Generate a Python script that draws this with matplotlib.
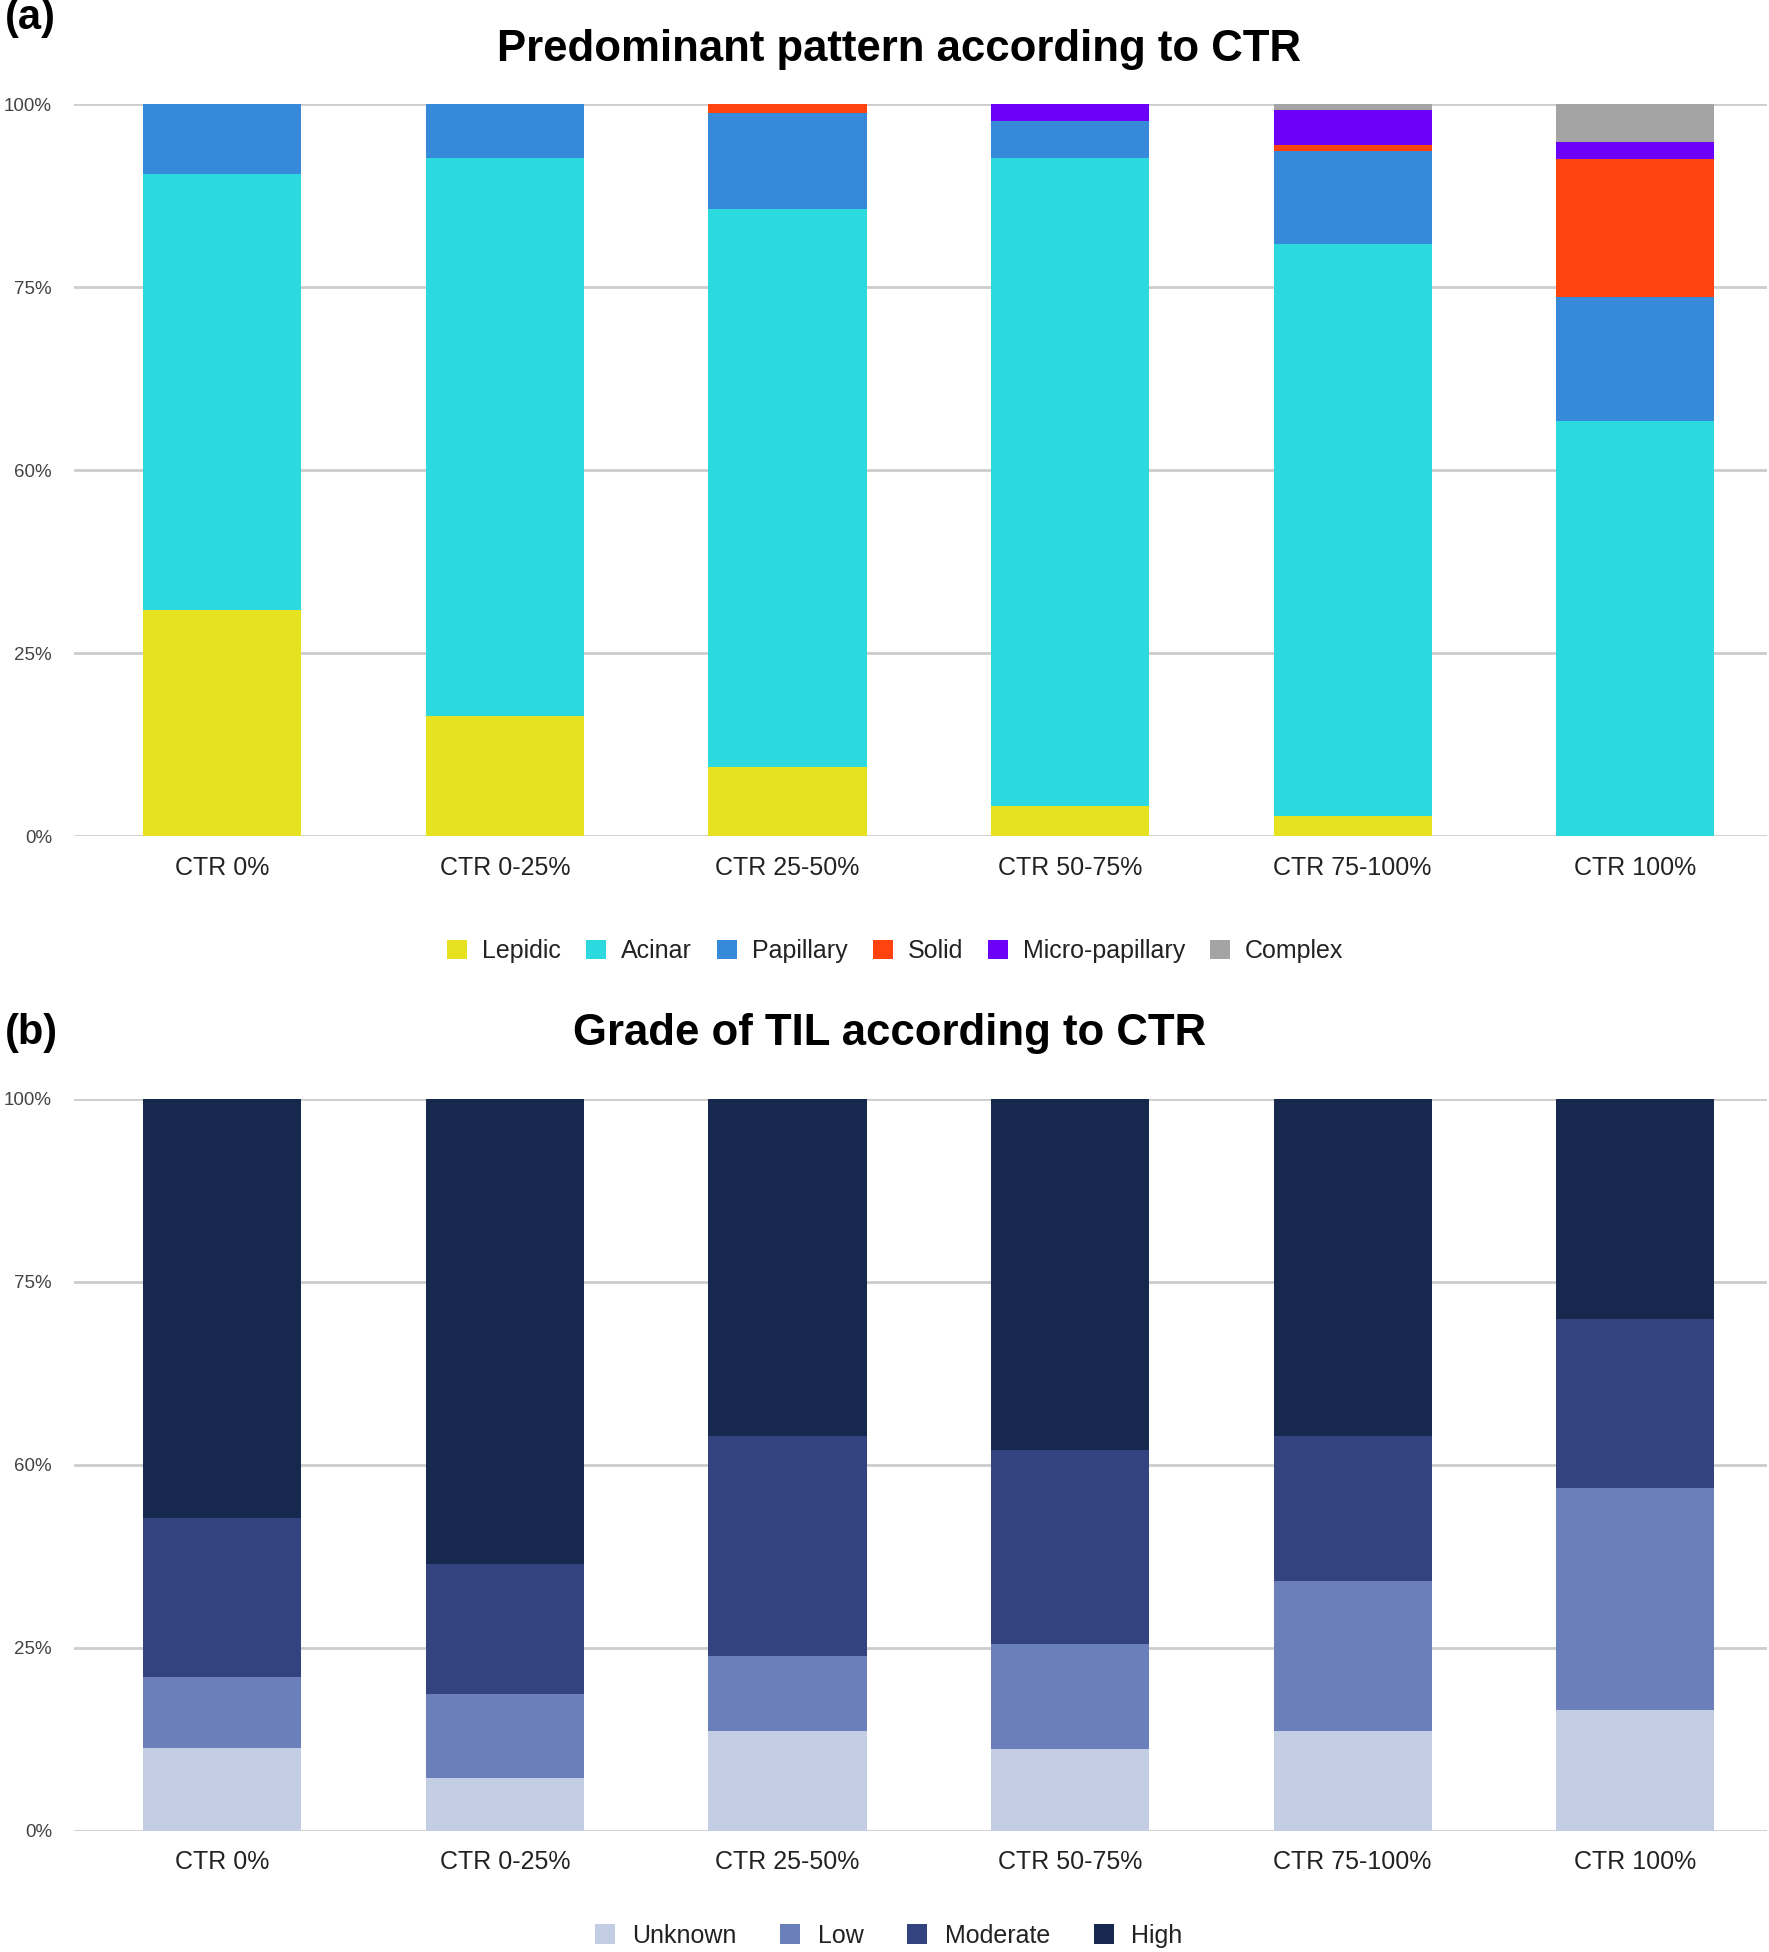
import numpy as np
import matplotlib.pyplot as plt

plt.rcParams['font.family'] = ['Liberation Sans', 'DejaVu Sans']

categories = ['CTR 0%', 'CTR 0-25%', 'CTR 25-50%', 'CTR 50-75%', 'CTR 75-100%', 'CTR 100%']

# (a) predominant pattern, percent of each CTR group
pattern_names = ['Lepidic', 'Acinar', 'Papillary', 'Solid', 'Micro-papillary', 'Complex']
lepidic = [31.0, 16.4, 9.5, 4.2, 2.8, 0.0]
acinar = [59.5, 76.3, 76.2, 88.5, 78.2, 56.8]
papillary = [9.5, 7.3, 13.1, 5.1, 12.6, 16.9]
solid = [0.0, 0.0, 1.2, 0.0, 0.8, 18.9]
micropapillary = [0.0, 0.0, 0.0, 2.2, 4.9, 2.3]
complex_ = [0.0, 0.0, 0.0, 0.0, 0.7, 5.1]
pattern_colors = ['#e6e21f', '#2cd9de', '#3789da', '#fe4210', '#6d00f6', '#a4a4a4']

# (b) grade of TIL, percent of each CTR group
til_names = ['Unknown', 'Low', 'Moderate', 'High']
unknown = [11.4, 7.3, 13.7, 11.2, 13.7, 16.5]
low = [9.7, 11.4, 10.2, 14.3, 20.5, 30.4]
moderate = [21.7, 17.8, 30.0, 26.5, 19.7, 23.1]
high = [57.2, 63.5, 46.1, 48.0, 46.1, 30.0]
til_colors = ['#c3cde3', '#6b80ba', '#33437f', '#17284f']

ytick_vals = [0, 25, 50, 75, 100]
ytick_labels = ['0%', '25%', '60%', '75%', '100%']


def stacked(ax, series, names, colors, legend_x, legend_y, pad, colsp):
    x = np.arange(len(categories))
    bottom = np.zeros(len(categories))
    for vals, name, col in zip(series, names, colors):
        ax.bar(x, vals, 0.56, bottom=bottom, color=col, label=name, zorder=2)
        bottom += np.array(vals)
    ax.set_xlim(-0.524, 5.467)
    ax.set_ylim(0, 100)
    ax.set_yticks(ytick_vals)
    ax.set_yticklabels(ytick_labels, fontsize=13.5, color='#444444')
    ax.set_xticks(x)
    ax.set_xticklabels(categories, fontsize=18, color='#222222')
    ax.tick_params(axis='both', length=0)
    ax.tick_params(axis='y', pad=16)
    ax.tick_params(axis='x', pad=14)
    ax.yaxis.grid(True, color='#cccccc', linewidth=2, zorder=0)
    ax.set_axisbelow(True)
    for s in ax.spines.values():
        s.set_visible(False)
    ax.legend(loc='center', bbox_to_anchor=(legend_x, legend_y), ncol=len(names), frameon=False,
              fontsize=18, handlelength=0.8, handleheight=0.8, handletextpad=pad,
              columnspacing=colsp, labelcolor='#222222')


fig = plt.figure(figsize=(17.69, 19.52), dpi=100)
ax1 = fig.add_axes([0.042, 0.5715, 0.957, 0.375])
ax2 = fig.add_axes([0.042, 0.0620, 0.957, 0.375])

stacked(ax1, [lepidic, acinar, papillary, solid, micropapillary, complex_],
        pattern_names, pattern_colors, 0.485, -0.157, 0.6, 1.0)
stacked(ax2, [unknown, low, moderate, high],
        til_names, til_colors, 0.481, -0.143, 0.7, 1.75)

fig.text(0.508, 0.9745, 'Predominant pattern according to CTR', fontsize=31.5,
         fontweight='bold', ha='center', va='center')
fig.text(0.5026, 0.4705, 'Grade of TIL according to CTR', fontsize=31.5,
         fontweight='bold', ha='center', va='center')

fig.text(0.003, 0.991, '(a)', fontsize=30, fontweight='bold', va='center', ha='left')
fig.text(0.003, 0.471, '(b)', fontsize=30, fontweight='bold', va='center', ha='left')

fig.savefig('out.png', dpi=100)
